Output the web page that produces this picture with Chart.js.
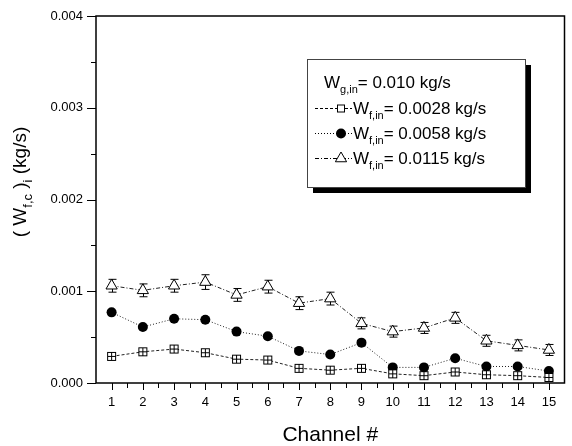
<!DOCTYPE html>
<html>
<head>
<meta charset="utf-8">
<script src="https://cdn.jsdelivr.net/npm/chart.js@4.4.1/dist/chart.umd.min.js"></script>
<style>
  html, body { margin: 0; padding: 0; background: #fff; }
</style>
</head>
<body>
<canvas id="chart" width="572" height="446"></canvas>
<script>
// Data (kg/s)
const channels = [1, 2, 3, 4, 5, 6, 7, 8, 9, 10, 11, 12, 13, 14, 15];
const wf0028 = [0.00029, 0.00034, 0.00037, 0.00033, 0.00026, 0.00025, 0.00016, 0.00014, 0.00016, 0.00010, 0.00008, 0.00012, 0.00009, 0.00008, 0.00006];
const wf0058 = [0.00077, 0.00061, 0.00070, 0.00069, 0.00056, 0.00051, 0.00035, 0.00031, 0.00044, 0.00017, 0.00017, 0.00027, 0.00018, 0.00018, 0.00013];
const wf0115 = [0.00106, 0.00101, 0.00106, 0.00110, 0.00096, 0.00105, 0.00087, 0.00092, 0.00065, 0.00056, 0.00060, 0.00071, 0.00046, 0.00041, 0.00036];
const err0115 = [0.00007, 0.00007, 0.00007, 0.00008, 0.00007, 0.00007, 0.00007, 0.00007, 0.00006, 0.00006, 0.00006, 0.00006, 0.00006, 0.00006, 0.00006];
const yTicks = [0, 0.001, 0.002, 0.003, 0.004];

const FONT = '"Liberation Sans", Arial, sans-serif';

// square with a cross inside
function makeSquareMark() {
    const c = document.createElement('canvas');
    c.width = 11; c.height = 11;
    const g = c.getContext('2d');
    g.fillStyle = '#fff';
    g.fillRect(1, 1, 9, 9);
    g.strokeStyle = '#000';
    g.lineWidth = 1;
    g.strokeRect(1.5, 1.5, 8, 8);
    g.beginPath();
    g.moveTo(5.5, 1.5); g.lineTo(5.5, 9.5);
    g.moveTo(1.5, 5.5); g.lineTo(9.5, 5.5);
    g.stroke();
    return c;
}
const squareMark = makeSquareMark();

function pts(arr) {
    return channels.map((c, i) => ({ x: c, y: arr[i] }));
}

// draw text runs with subscripts, returns end x
function drawRuns(ctx, x, y, runs, size, subSize) {
    runs.forEach(r => {
        ctx.font = (r.sub ? subSize : size) + 'px ' + FONT;
        ctx.fillText(r.t, x, r.sub ? y + size * 0.3 : y);
        x += ctx.measureText(r.t).width;
    });
    return x;
}
function runsWidth(ctx, runs, size, subSize) {
    let w = 0;
    runs.forEach(r => {
        ctx.font = (r.sub ? subSize : size) + 'px ' + FONT;
        w += ctx.measureText(r.t).width;
    });
    return w;
}

const errorBars = {
    id: 'errorBars',
    beforeDatasetsDraw(chart) {
        const ctx = chart.ctx;
        const xs = chart.scales.x, ys = chart.scales.y;
        ctx.save();
        ctx.strokeStyle = '#000';
        ctx.lineWidth = 1;
        channels.forEach((c, i) => {
            const px = Math.round(xs.getPixelForValue(c)) + 0.5;
            const top = ys.getPixelForValue(wf0115[i] + err0115[i]);
            const bot = ys.getPixelForValue(wf0115[i] - err0115[i]);
            ctx.beginPath();
            ctx.moveTo(px, top); ctx.lineTo(px, bot);
            ctx.moveTo(px - 4, top); ctx.lineTo(px + 4, top);
            ctx.moveTo(px - 4, bot); ctx.lineTo(px + 4, bot);
            ctx.stroke();
        });
        ctx.restore();
    }
};

const decorations = {
    id: 'decorations',
    afterDraw(chart) {
        const ctx = chart.ctx;
        const a = chart.chartArea;
        const xs = chart.scales.x, ys = chart.scales.y;
        ctx.save();
        ctx.strokeStyle = '#000';
        ctx.fillStyle = '#000';

        // frame
        ctx.lineWidth = 1.5;
        ctx.strokeRect(a.left, a.top, a.right - a.left, a.bottom - a.top);

        // ticks
        ctx.lineWidth = 1;
        ctx.beginPath();
        yTicks.forEach((v, i) => {
            const py = Math.round(ys.getPixelForValue(v)) + 0.5;
            ctx.moveTo(a.left - 9, py); ctx.lineTo(a.left, py);
            if (i < yTicks.length - 1) {
                const pm = Math.round(ys.getPixelForValue((v + yTicks[i + 1]) / 2)) + 0.5;
                ctx.moveTo(a.left - 5, pm); ctx.lineTo(a.left, pm);
            }
        });
        channels.forEach(c => {
            const px = Math.round(xs.getPixelForValue(c)) + 0.5;
            ctx.moveTo(px, a.bottom); ctx.lineTo(px, a.bottom + 7);
            const pm = Math.round(xs.getPixelForValue(c + 0.5)) + 0.5;
            if (c < channels[channels.length - 1]) {
                ctx.moveTo(pm, a.bottom); ctx.lineTo(pm, a.bottom + 5);
            }
        });
        ctx.stroke();

        // axis titles
        ctx.textBaseline = 'alphabetic';
        ctx.textAlign = 'left';
        ctx.font = '21px ' + FONT;
        const xt = 'Channel #';
        const xw = ctx.measureText(xt).width;
        ctx.fillText(xt, (a.left + a.right) / 2 - xw / 2, 441);

        const yRuns = [
            { t: '( W' }, { t: 'f,c', sub: true }, { t: ' )' }, { t: 'i', sub: true }, { t: ' (kg/s)' }
        ];
        ctx.save();
        ctx.translate(26, 182);
        ctx.rotate(-Math.PI / 2);
        const yw = runsWidth(ctx, yRuns, 19, 13);
        drawRuns(ctx, -yw / 2, 0, yRuns, 19, 13);
        ctx.restore();

        // legend box with shadow
        const bx = 307, by = 59, bw = 218, bh = 128;
        ctx.fillStyle = '#000';
        ctx.fillRect(bx + 6, by + 6, bw, bh);
        ctx.fillStyle = '#fff';
        ctx.fillRect(bx, by, bw, bh);
        ctx.strokeStyle = '#444';
        ctx.lineWidth = 1;
        ctx.strokeRect(bx + 0.5, by + 0.5, bw, bh);

        ctx.fillStyle = '#000';
        drawRuns(ctx, 324, 88, [{ t: 'W' }, { t: 'g,in', sub: true }, { t: '= 0.010 kg/s' }], 17, 11);

        const rows = [
            { ds: 0, label: '= 0.0028 kg/s', y: 114 },
            { ds: 1, label: '= 0.0058 kg/s', y: 139 },
            { ds: 2, label: '= 0.0115 kg/s', y: 164 }
        ];
        const mx = 341;
        rows.forEach(r => {
            const ds = chart.data.datasets[r.ds];
            const ly = r.y - 5.5;
            ctx.save();
            ctx.strokeStyle = '#000';
            ctx.lineWidth = 1;
            ctx.setLineDash(ds.borderDash);
            ctx.beginPath();
            ctx.moveTo(315, ly); ctx.lineTo(352, ly);
            ctx.stroke();
            ctx.restore();
            ctx.save();
            ctx.fillStyle = ds.pointBackgroundColor;
            ctx.strokeStyle = '#000';
            ctx.lineWidth = 1;
            ctx.beginPath();
            if (ds.pointStyle === 'circle') {
                ctx.arc(mx, ly, ds.pointRadius, 0, Math.PI * 2);
                ctx.fill();
            } else if (ds.pointStyle === 'triangle') {
                const r = ds.pointRadius;
                ctx.moveTo(mx, ly - r);
                ctx.lineTo(mx + r * Math.sin(Math.PI / 3), ly + r / 2);
                ctx.lineTo(mx - r * Math.sin(Math.PI / 3), ly + r / 2);
                ctx.closePath();
                ctx.fill(); ctx.stroke();
            } else {
                ctx.fillStyle = '#fff';
                ctx.fillRect(mx - 4, ly - 4, 8, 8);
                ctx.strokeRect(mx - 3.5, ly - 3.5, 7, 7);
            }
            ctx.restore();
            ctx.fillStyle = '#000';
            drawRuns(ctx, 353, r.y, [{ t: 'W' }, { t: 'f,in', sub: true }, { t: r.label }], 17, 11);
        });

        ctx.restore();
    }
};

new Chart(document.getElementById('chart'), {
    type: 'line',
    data: {
        datasets: [
            {
                label: 'Wf,in = 0.0028 kg/s',
                data: pts(wf0028),
                borderColor: '#222',
                borderWidth: 1,
                borderDash: [3, 2],
                pointStyle: squareMark,
                pointRadius: 5,
                pointBackgroundColor: '#fff',
                pointBorderColor: '#000',
                fill: false
            },
            {
                label: 'Wf,in = 0.0058 kg/s',
                data: pts(wf0058),
                borderColor: '#222',
                borderWidth: 1,
                borderDash: [1, 2],
                pointStyle: 'circle',
                pointRadius: 5,
                pointBackgroundColor: '#000',
                pointBorderColor: '#000',
                pointBorderWidth: 0,
                fill: false
            },
            {
                label: 'Wf,in = 0.0115 kg/s',
                data: pts(wf0115),
                borderColor: '#222',
                borderWidth: 1,
                borderDash: [4, 2, 1, 2],
                pointStyle: 'triangle',
                pointRadius: 6.5,
                pointBackgroundColor: '#fff',
                pointBorderColor: '#000',
                pointBorderWidth: 1,
                fill: false
            }
        ]
    },
    options: {
        responsive: false,
        animation: false,
        layout: { padding: { top: 16, right: 1, left: 0, bottom: 0 } },
        plugins: {
            legend: { display: false },
            tooltip: { enabled: false }
        },
        scales: {
            x: {
                type: 'linear',
                min: 0.5,
                max: 15.5,
                afterBuildTicks: s => { s.ticks = channels.map(v => ({ value: v })); },
                afterFit: s => { s.height = 63; s.paddingLeft = 0; s.paddingRight = 0; },
                border: { display: false },
                grid: { display: true, drawOnChartArea: false, tickLength: 0, color: 'rgba(0,0,0,0)' },
                ticks: {
                    color: '#000',
                    font: { family: FONT, size: 13 },
                    padding: 12,
                    maxRotation: 0,
                    autoSkip: false
                }
            },
            y: {
                min: 0,
                max: 0.004,
                afterBuildTicks: s => { s.ticks = yTicks.map(v => ({ value: v })); },
                afterFit: s => { s.width = 96; s.paddingTop = 0; s.paddingBottom = 0; },
                border: { display: false },
                grid: { display: true, drawOnChartArea: false, tickLength: 0, color: 'rgba(0,0,0,0)' },
                ticks: {
                    color: '#000',
                    font: { family: FONT, size: 13 },
                    padding: 13,
                    callback: v => v.toFixed(3)
                }
            }
        }
    },
    plugins: [errorBars, decorations]
});
</script>
</body>
</html>
